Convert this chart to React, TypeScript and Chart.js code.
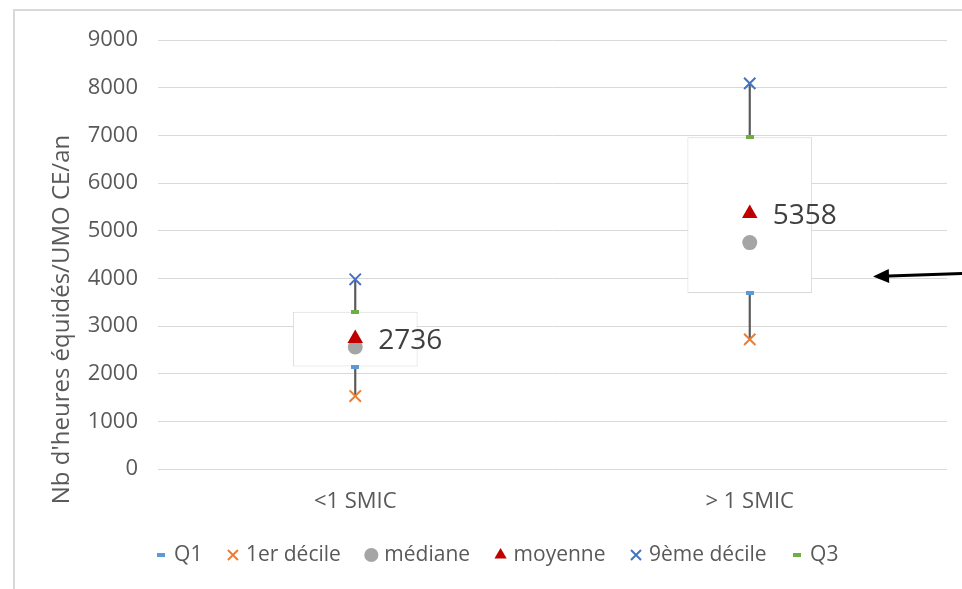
import React, { useEffect, useRef } from 'react';
import { Chart, registerables } from 'chart.js';

Chart.register(...registerables);

// ---- Data ----
const categories = ['<1 SMIC', '> 1 SMIC'];
const q1 = [2150, 3690];
const decile1 = [1530, 2720];
const median = [2560, 4750];
const mean = [2736, 5358];
const decile9 = [3980, 8090];
const q3 = [3300, 6960];
const yMin = 0;
const yMax = 9000;
const yStep = 1000;
const yTitle = "Nb d'heures équidés/UMO CE/an";
const seriesNames = ['Q1', '1er décile', 'médiane', 'moyenne', '9ème décile', 'Q3'];

const FONT = '"Open Sans", "DejaVu Sans", sans-serif';
const TEXT = '#595959';

function dash(color: string) {
  const c = document.createElement('canvas');
  c.width = 8;
  c.height = 4;
  const g = c.getContext('2d')!;
  g.fillStyle = color;
  g.fillRect(0, 0, 8, 4);
  return c;
}

const meanLabels = {
  id: 'meanLabels',
  afterDatasetsDraw(chart: any) {
    const idx = chart.data.datasets.findIndex((d: any) => d.label === seriesNames[3]);
    const meta = chart.getDatasetMeta(idx);
    const ctx = chart.ctx;
    ctx.save();
    ctx.font = `28px ${FONT}`;
    ctx.fillStyle = '#404040';
    ctx.textAlign = 'left';
    ctx.textBaseline = 'middle';
    meta.data.forEach((pt: any, i: number) => {
      ctx.fillText(String(mean[i]), pt.x + 23, pt.y + 2);
    });
    ctx.restore();
  },
};

const axisTitle = {
  id: 'axisTitle',
  afterDraw(chart: any) {
    const ctx = chart.ctx;
    const a = chart.chartArea;
    ctx.save();
    ctx.translate(a.left - 96, (a.top + a.bottom) / 2 + 65);
    ctx.rotate(-Math.PI / 2);
    ctx.font = `24px ${FONT}`;
    ctx.fillStyle = TEXT;
    ctx.textAlign = 'center';
    ctx.textBaseline = 'middle';
    ctx.fillText(yTitle, 0, 0);
    ctx.restore();
  },
};

const arrow = {
  id: 'arrow',
  afterDraw(chart: any) {
    const ctx = chart.ctx;
    const x1 = chart.width;
    const y1 = 262.5;
    const x2 = 858;
    const y2 = 265.5;
    const ang = Math.atan2(y2 - y1, x2 - x1);
    const len = 16;
    const hw = 7;
    const bx = x2 - Math.cos(ang) * len;
    const by = y2 - Math.sin(ang) * len;
    ctx.save();
    ctx.strokeStyle = '#000';
    ctx.fillStyle = '#000';
    ctx.lineWidth = 3;
    ctx.beginPath();
    ctx.moveTo(x1, y1);
    ctx.lineTo(bx, by);
    ctx.stroke();
    ctx.beginPath();
    ctx.moveTo(x2, y2);
    ctx.lineTo(bx - Math.sin(ang) * hw, by + Math.cos(ang) * hw);
    ctx.lineTo(bx + Math.sin(ang) * hw, by - Math.cos(ang) * hw);
    ctx.closePath();
    ctx.fill();
    ctx.restore();
  },
};

export default function App() {
  const ref = useRef<HTMLCanvasElement>(null);

  useEffect(() => {
    if (!ref.current) return;
    const pointBase = { type: 'line', showLine: false, pointHoverRadius: 0 };
    const chart = new Chart(ref.current, {
      type: 'bar',
      data: {
        labels: categories,
        datasets: [
          {
            ...pointBase,
            label: seriesNames[0],
            data: q1,
            pointStyle: dash('#5B9BD5'),
            pointRadius: 4,
            backgroundColor: '#5B9BD5',
            borderColor: '#5B9BD5',
            order: 1,
          },
          {
            ...pointBase,
            label: seriesNames[1],
            data: decile1,
            pointStyle: 'crossRot',
            pointRadius: 8,
            pointBorderWidth: 2,
            borderWidth: 2,
            backgroundColor: '#ED7D31',
            borderColor: '#ED7D31',
            order: 1,
          },
          {
            ...pointBase,
            label: seriesNames[2],
            data: median,
            pointStyle: 'circle',
            pointRadius: 7.5,
            pointBorderWidth: 0,
            borderWidth: 0,
            backgroundColor: '#A5A5A5',
            borderColor: '#A5A5A5',
            order: 3,
          },
          {
            ...pointBase,
            label: seriesNames[3],
            data: mean,
            pointStyle: 'triangle',
            pointRadius: 9,
            pointBorderWidth: 0,
            borderWidth: 0,
            backgroundColor: '#C00000',
            borderColor: '#C00000',
            order: 2,
          },
          {
            ...pointBase,
            label: seriesNames[4],
            data: decile9,
            pointStyle: 'crossRot',
            pointRadius: 8,
            pointBorderWidth: 2,
            borderWidth: 2,
            backgroundColor: '#4472C4',
            borderColor: '#4472C4',
            order: 1,
          },
          {
            ...pointBase,
            label: seriesNames[5],
            data: q3,
            pointStyle: dash('#70AD47'),
            pointRadius: 4,
            backgroundColor: '#70AD47',
            borderColor: '#70AD47',
            order: 1,
          },
          {
            type: 'bar',
            label: '',
            data: categories.map((_, i) => [q1[i], q3[i]]),
            backgroundColor: '#FFFFFF',
            borderColor: '#D9D9D9',
            borderWidth: 1,
            borderSkipped: false,
            grouped: false,
            categoryPercentage: 1,
            barPercentage: 0.316,
            order: 10,
          },
          {
            type: 'bar',
            label: '',
            data: categories.map((_, i) => [q3[i], decile9[i]]),
            backgroundColor: '#595959',
            barThickness: 1.5,
            grouped: false,
            order: 9,
          },
          {
            type: 'bar',
            label: '',
            data: categories.map((_, i) => [decile1[i], q1[i]]),
            backgroundColor: '#595959',
            barThickness: 1.5,
            grouped: false,
            order: 9,
          },
        ] as any,
      },
      options: {
        responsive: false,
        maintainAspectRatio: false,
        animation: false,
        devicePixelRatio: 1,
        layout: { padding: { left: 35, right: 15, top: 29, bottom: 13.5 } },
        scales: {
          x: {
            type: 'category',
            offset: true,
            grid: { display: false, drawTicks: false },
            border: { display: false },
            ticks: { color: TEXT, font: { family: FONT, size: 22 }, padding: 20 },
            afterFit: (s: any) => {
              s.height = 47.5;
            },
          },
          y: {
            type: 'linear',
            min: yMin,
            max: yMax,
            grid: { color: '#D9D9D9', lineWidth: 1, drawTicks: false },
            border: { display: false },
            ticks: {
              stepSize: yStep,
              color: TEXT,
              font: { family: FONT, size: 22 },
              padding: 20,
              callback: (v: any) => String(v),
            },
            afterFit: (s: any) => {
              s.width = 108;
              s.paddingTop = 0;
              s.paddingBottom = 0;
            },
          },
        },
        plugins: {
          tooltip: { enabled: false },
          legend: {
            position: 'bottom',
            labels: {
              usePointStyle: true,
              boxWidth: 5,
              boxHeight: 10,
              padding: 28,
              color: TEXT,
              font: { family: FONT, size: 21 },
              filter: (item: any) => item.text !== '',
              sort: (a: any, b: any) => a.datasetIndex - b.datasetIndex,
            },
          },
        },
      } as any,
      plugins: [meanLabels, axisTitle, arrow],
    });
    return () => chart.destroy();
  }, []);

  return (
    <div style={{ position: 'absolute', left: 0, top: 0, width: 962, height: 589, background: '#fff', overflow: 'hidden' }}>
      <div
        style={{
          position: 'absolute',
          left: 13,
          top: 9,
          width: 960,
          height: 590,
          borderLeft: '2px solid #D9D9D9',
          borderTop: '2px solid #D9D9D9',
        }}
      />
      <canvas
        ref={ref}
        width={947}
        height={578}
        style={{ position: 'absolute', left: 15, top: 11, width: 947, height: 578 }}
      />
    </div>
  );
}
